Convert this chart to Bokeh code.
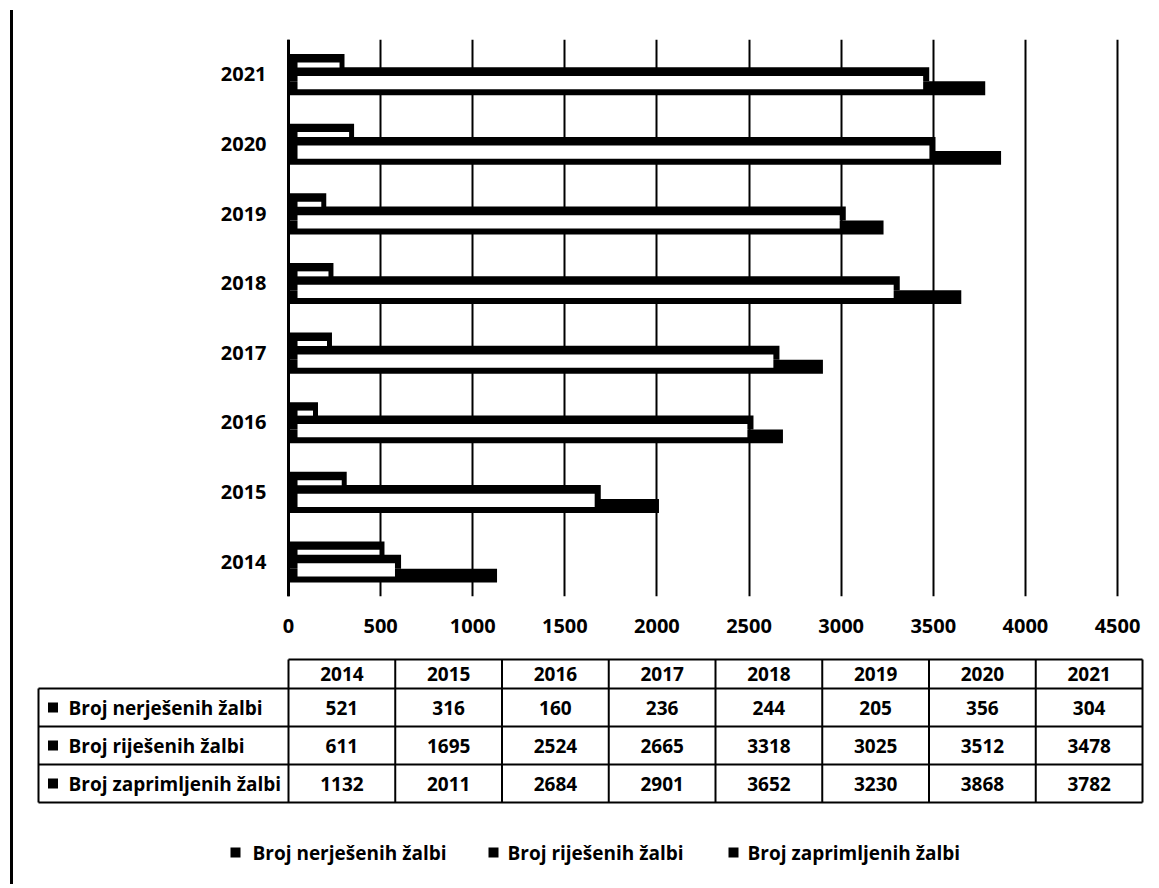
from bokeh.plotting import figure
from bokeh.models import ColumnDataSource, FactorRange, Range1d, FixedTicker, Div, Span
from bokeh.layouts import row, column
from bokeh.transform import dodge
from bokeh.core.properties import value
from bokeh.embed import file_html
from bokeh.resources import INLINE

# ---------------- data ----------------
years = ["2014", "2015", "2016", "2017", "2018", "2019", "2020", "2021"]
series_names = ["Broj nerješenih žalbi", "Broj riješenih žalbi", "Broj zaprimljenih žalbi"]
nerijesene = [521, 316, 160, 236, 244, 205, 356, 304]
rijesene = [611, 1695, 2524, 2665, 3318, 3025, 3512, 3478]
zaprimljene = [1132, 2011, 2684, 2901, 3652, 3230, 3868, 3782]
x_ticks = [0, 500, 1000, 1500, 2000, 2500, 3000, 3500, 4000, 4500]

FONT = "Open Sans"
BLACK = "#000000"

# ---------------- page geometry (pixels) ----------------
PAGE_LEFT = 13          # left edge of the chart column (after the frame line)
PAGE_RIGHT = 1151
AXIS_X0 = 288           # where value 0 sits
AXIS_X1 = 1117          # where value 4500 sits
VMAX = 4500
scale = (AXIS_X1 - AXIS_X0) / VMAX
xr_start = -(AXIS_X0 - PAGE_LEFT) / scale
xr_end = VMAX + (PAGE_RIGHT - AXIS_X1) / scale

# ---------------- bar chart ----------------
src = ColumnDataSource(dict(
    year=years,
    ner=nerijesene,
    rij=rijesene,
    zap=zaprimljene,
    ner_in=[v - 27 for v in nerijesene],
    rij_in=[v - 33 for v in rijesene],
))

p = figure(width=PAGE_RIGHT - PAGE_LEFT, height=640,
           y_range=FactorRange(factors=years),
           x_range=Range1d(xr_start, xr_end),
           y_axis_location=None,
           output_backend="svg", toolbar_location=None,
           min_border_left=0, min_border_right=0,
           min_border_top=39, min_border_bottom=44)

# bars (scanned black & white look)
p.hbar(y=dodge("year", -0.2, range=p.y_range), left=0, right="zap", height=0.2,
       fill_color=BLACK, line_color=None, source=src)
p.hbar(y=dodge("year", 0.0, range=p.y_range), left=0, right="rij", height=0.2,
       fill_color=BLACK, line_color=None, source=src)
p.hbar(y=dodge("year", 0.19, range=p.y_range), left=0, right="ner", height=0.2,
       fill_color=BLACK, line_color=None, source=src)
# light interiors
p.hbar(y=dodge("year", 0.134, range=p.y_range), left=49, right="ner_in", height=0.072,
       fill_color="white", line_color=None, source=src)
p.hbar(y=dodge("year", -0.118, range=p.y_range), left=49, right="rij_in", height=0.19,
       fill_color="white", line_color=None, source=src)

# category (year) labels left of the value axis
p.text(x=[-22 / scale] * len(years), y=years, text=years,
       text_align="right", text_baseline="middle",
       text_font=value(FONT), text_font_style="bold", text_font_size="20px",
       text_color=BLACK)

p.add_layout(Span(location=0, dimension="height", line_color=BLACK, line_width=3))

p.xaxis.ticker = FixedTicker(ticks=x_ticks)
p.xgrid.ticker = FixedTicker(ticks=x_ticks)
p.xgrid.grid_line_color = BLACK
p.xgrid.grid_line_width = 2
p.ygrid.grid_line_color = None

p.xaxis.major_tick_line_color = None
p.xaxis.minor_tick_line_color = None
p.xaxis.major_label_text_font = FONT
p.xaxis.major_label_text_font_style = "bold"
p.xaxis.major_label_text_font_size = "20px"
p.xaxis.major_label_text_color = BLACK
p.xaxis.axis_line_color = None
p.xaxis.major_label_standoff = 16
p.outline_line_color = None
p.background_fill_color = "white"

# ---------------- data table + legend (page pixel coordinates) ----------------
t = figure(width=PAGE_RIGHT - PAGE_LEFT, height=244,
           x_range=Range1d(PAGE_LEFT, PAGE_RIGHT), y_range=Range1d(884, 640),
           x_axis_location=None, y_axis_location=None,
           output_backend="svg", toolbar_location=None, min_border=0)
t.grid.visible = False
t.outline_line_color = None

label_left = 38
col_left = AXIS_X0
col_w = 106.75
header_top = 659
row_lines = [688, 726, 764, 802]
ncol = len(years)
right_edge = col_left + ncol * col_w

# horizontal lines
hx0 = [col_left] + [label_left] * len(row_lines)
hx1 = [right_edge] * (1 + len(row_lines))
hy = [header_top] + row_lines
t.segment(x0=hx0, y0=hy, x1=hx1, y1=hy, line_color=BLACK, line_width=2)
# vertical lines
vx = [label_left] + [col_left + i * col_w for i in range(ncol + 1)]
vy0 = [row_lines[0]] + [header_top] * (ncol + 1)
vy1 = [row_lines[-1]] * (ncol + 2)
t.segment(x0=vx, y0=vy0, x1=vx, y1=vy1, line_color=BLACK, line_width=2)

col_centers = [col_left + (i + 0.5) * col_w for i in range(ncol)]
txt_kw = dict(text_font=value(FONT), text_font_style="bold", text_font_size="19px",
              text_color=BLACK, text_baseline="middle")

# header years
t.text(x=col_centers, y=[(header_top + row_lines[0]) / 2] * ncol, text=years,
       text_align="center", **txt_kw)

series_vals = [nerijesene, rijesene, zaprimljene]
for r, (name, vals) in enumerate(zip(series_names, series_vals)):
    yc = (row_lines[r] + row_lines[r + 1]) / 2
    t.scatter(x=[52.5], y=[yc], marker="square", size=10, fill_color=BLACK, line_color=None)
    t.text(x=[68], y=[yc], text=[name], text_align="left", **txt_kw)
    t.text(x=col_centers, y=[yc] * ncol, text=[str(v) for v in vals],
           text_align="center", **txt_kw)

# legend
leg_sq = [235, 493, 733]
leg_tx = [252, 507, 747]
leg_y = 852
t.scatter(x=leg_sq, y=[leg_y] * 3, marker="square", size=10, fill_color=BLACK, line_color=None)
t.text(x=leg_tx, y=[leg_y] * 3, text=series_names, text_align="left", **txt_kw)

# left frame line of the scanned chart box
border = Div(text="", width=3, height=874, margin=(10, 0, 0, 10),
             styles={"background-color": "black"})

layout = row(border, column(p, t))

open("out.html", "w").write(file_html(layout, INLINE))
